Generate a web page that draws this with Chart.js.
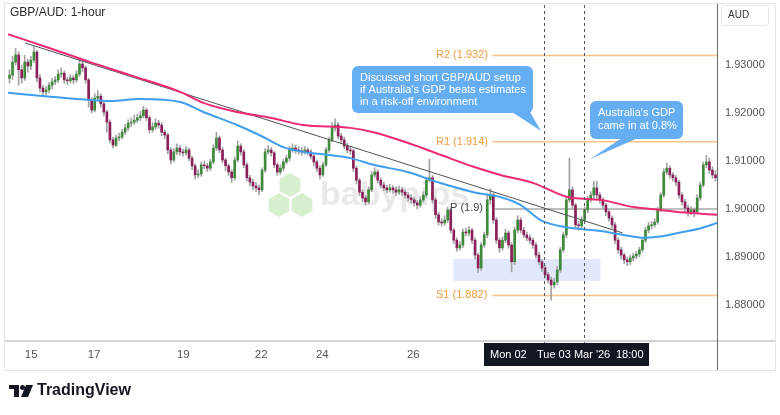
<!DOCTYPE html>
<html>
<head>
<meta charset="utf-8">
<title>GBP/AUD 1-hour</title>
<script src="https://cdn.jsdelivr.net/npm/chart.js@4.4.1/dist/chart.umd.min.js"></script>
<style>
  html, body { margin: 0; padding: 0; background: #fff; }
  #wrap { width: 780px; height: 415px; position: relative; }
</style>
</head>
<body>
<div id="wrap"><canvas id="gbpaud" width="780" height="415"></canvas></div>
<script>
// Start Data

// hourly closes (open = previous close)
const firstOpen = 1.9272;
const closes = [
  1.9279, 1.9306, 1.9321, 1.9290, 1.9273, 1.9306, 1.9298, 1.9310, 1.9327, 1.9273,
  1.9252, 1.9244, 1.9248, 1.9258, 1.9265, 1.9269, 1.9281, 1.9283, 1.9269, 1.9267,
  1.9273, 1.9269, 1.9281, 1.9302, 1.9294, 1.9269, 1.9227, 1.9206, 1.9231, 1.9235,
  1.9219, 1.9202, 1.9181, 1.9144, 1.9133, 1.9148, 1.9150, 1.9160, 1.9169, 1.9179,
  1.9181, 1.9185, 1.9190, 1.9194, 1.9206, 1.9190, 1.9165, 1.9171, 1.9179, 1.9175,
  1.9160, 1.9154, 1.9123, 1.9102, 1.9119, 1.9127, 1.9119, 1.9117, 1.9123, 1.9106,
  1.9090, 1.9071, 1.9073, 1.9092, 1.9090, 1.9085, 1.9098, 1.9127, 1.9148, 1.9123,
  1.9102, 1.9090, 1.9077, 1.9065, 1.9102, 1.9131, 1.9119, 1.9092, 1.9065, 1.9056,
  1.9048, 1.9044, 1.9040, 1.9081, 1.9119, 1.9123, 1.9117, 1.9092, 1.9077, 1.9085,
  1.9098, 1.9106, 1.9123, 1.9127, 1.9123, 1.9121, 1.9119, 1.9123, 1.9119, 1.9110,
  1.9098, 1.9085, 1.9071, 1.9092, 1.9123, 1.9144, 1.9169, 1.9175, 1.9152, 1.9144,
  1.9131, 1.9123, 1.9121, 1.9085, 1.9060, 1.9035, 1.9023, 1.9015, 1.9040, 1.9071,
  1.9077, 1.9060, 1.9050, 1.9044, 1.9040, 1.9044, 1.9040, 1.9035, 1.9040, 1.9035,
  1.9029, 1.9023, 1.9019, 1.9013, 1.9008, 1.9019, 1.9029, 1.9060, 1.9065, 1.9019,
  1.8988, 1.8973, 1.8971, 1.8977, 1.8998, 1.8956, 1.8935, 1.8919, 1.8925, 1.8952,
  1.8950, 1.8956, 1.8935, 1.8904, 1.8877, 1.8925, 1.8946, 1.9019, 1.9029, 1.8977,
  1.8935, 1.8919, 1.8935, 1.8950, 1.8925, 1.8890, 1.8956, 1.8977, 1.8956, 1.8946,
  1.8940, 1.8935, 1.8925, 1.8904, 1.8890, 1.8877, 1.8863, 1.8852, 1.8842, 1.8848,
  1.8873, 1.8915, 1.8946, 1.9019, 1.9040, 1.9008, 1.8967, 1.8965, 1.8977, 1.8998,
  1.9019, 1.9029, 1.9044, 1.9029, 1.9019, 1.9008, 1.8994, 1.8981, 1.8967, 1.8935,
  1.8915, 1.8904, 1.8894, 1.8890, 1.8898, 1.8902, 1.8906, 1.8915, 1.8935, 1.8956,
  1.8965, 1.8967, 1.8973, 1.8998, 1.9029, 1.9077, 1.9085, 1.9071, 1.9065, 1.9056,
  1.9029, 1.9015, 1.9002, 1.8994, 1.8998, 1.8994, 1.9023, 1.9050, 1.9092, 1.9098,
  1.9081, 1.9071, 1.9065
];
const highs = [
  1.9290, 1.9318, 1.9335, 1.9328, 1.9300, 1.9320, 1.9312, 1.9318, 1.9338, 1.9331,
  1.9280, 1.9258, 1.9255, 1.9264, 1.9272, 1.9276, 1.9290, 1.9294, 1.9288, 1.9275,
  1.9280, 1.9278, 1.9288, 1.9312, 1.9312, 1.9298, 1.9272, 1.9232, 1.9240, 1.9247,
  1.9240, 1.9224, 1.9206, 1.9186, 1.9150, 1.9154, 1.9158, 1.9166, 1.9176, 1.9186,
  1.9190, 1.9196, 1.9198, 1.9203, 1.9214, 1.9210, 1.9194, 1.9180, 1.9188, 1.9185,
  1.9180, 1.9165, 1.9158, 1.9128, 1.9126, 1.9136, 1.9132, 1.9125, 1.9130, 1.9127,
  1.9110, 1.9094, 1.9082, 1.9098, 1.9100, 1.9095, 1.9104, 1.9134, 1.9160, 1.9152,
  1.9128, 1.9106, 1.9094, 1.9082, 1.9108, 1.9142, 1.9136, 1.9124, 1.9096, 1.9070,
  1.9062, 1.9055, 1.9050, 1.9086, 1.9126, 1.9132, 1.9128, 1.9120, 1.9096, 1.9092,
  1.9104, 1.9112, 1.9130, 1.9136, 1.9133, 1.9130, 1.9128, 1.9130, 1.9127, 1.9124,
  1.9114, 1.9102, 1.9090, 1.9098, 1.9128, 1.9150, 1.9180, 1.9188, 1.9180, 1.9158,
  1.9150, 1.9137, 1.9130, 1.9125, 1.9090, 1.9064, 1.9040, 1.9028, 1.9046, 1.9078,
  1.9086, 1.9082, 1.9065, 1.9056, 1.9050, 1.9052, 1.9049, 1.9046, 1.9048, 1.9045,
  1.9040, 1.9034, 1.9030, 1.9024, 1.9018, 1.9026, 1.9036, 1.9066, 1.9104, 1.9070,
  1.9024, 1.8994, 1.8980, 1.8986, 1.9004, 1.9002, 1.8960, 1.8940, 1.8932, 1.8958,
  1.8960, 1.8964, 1.8960, 1.8940, 1.8908, 1.8930, 1.8952, 1.9030, 1.9042, 1.9034,
  1.8982, 1.8940, 1.8942, 1.8958, 1.8955, 1.8930, 1.8962, 1.8986, 1.8982, 1.8962,
  1.8952, 1.8946, 1.8940, 1.8930, 1.8910, 1.8894, 1.8882, 1.8868, 1.8858, 1.8856,
  1.8880, 1.8920, 1.8952, 1.9026, 1.9106, 1.9046, 1.9012, 1.8975, 1.8984, 1.9004,
  1.9026, 1.9036, 1.9058, 1.9058, 1.9034, 1.9024, 1.9012, 1.8998, 1.8986, 1.8972,
  1.8940, 1.8920, 1.8908, 1.8900, 1.8904, 1.8908, 1.8912, 1.8920, 1.8940, 1.8962,
  1.8972, 1.8974, 1.8980, 1.9004, 1.9034, 1.9084, 1.9096, 1.9090, 1.9076, 1.9070,
  1.9060, 1.9034, 1.9020, 1.9008, 1.9005, 1.9002, 1.9030, 1.9056, 1.9098, 1.9112,
  1.9106, 1.9088, 1.9080
];
const lows = [
  1.9262, 1.9270, 1.9300, 1.9258, 1.9262, 1.9268, 1.9285, 1.9290, 1.9305, 1.9265,
  1.9244, 1.9236, 1.9238, 1.9242, 1.9250, 1.9259, 1.9263, 1.9274, 1.9262, 1.9259,
  1.9262, 1.9261, 1.9264, 1.9276, 1.9286, 1.9262, 1.9212, 1.9200, 1.9202, 1.9225,
  1.9212, 1.9194, 1.9160, 1.9137, 1.9127, 1.9130, 1.9142, 1.9146, 1.9155, 1.9163,
  1.9172, 1.9176, 1.9180, 1.9184, 1.9190, 1.9184, 1.9158, 1.9160, 1.9166, 1.9168,
  1.9152, 1.9146, 1.9115, 1.9094, 1.9098, 1.9113, 1.9112, 1.9110, 1.9112, 1.9100,
  1.9082, 1.9062, 1.9065, 1.9068, 1.9084, 1.9078, 1.9080, 1.9094, 1.9122, 1.9117,
  1.9096, 1.9080, 1.9070, 1.9055, 1.9060, 1.9098, 1.9112, 1.9086, 1.9058, 1.9048,
  1.9040, 1.9036, 1.9030, 1.9036, 1.9076, 1.9114, 1.9110, 1.9086, 1.9070, 1.9072,
  1.9080, 1.9094, 1.9100, 1.9118, 1.9116, 1.9114, 1.9112, 1.9114, 1.9112, 1.9104,
  1.9090, 1.9078, 1.9062, 1.9068, 1.9088, 1.9118, 1.9140, 1.9162, 1.9146, 1.9138,
  1.9125, 1.9117, 1.9114, 1.9078, 1.9052, 1.9028, 1.9016, 1.9008, 1.9010, 1.9036,
  1.9066, 1.9054, 1.9044, 1.9038, 1.9034, 1.9035, 1.9033, 1.9028, 1.9030, 1.9028,
  1.9022, 1.9016, 1.9012, 1.9006, 1.9000, 1.9004, 1.9014, 1.9024, 1.9056, 1.9012,
  1.8980, 1.8966, 1.8964, 1.8966, 1.8972, 1.8950, 1.8928, 1.8912, 1.8914, 1.8920,
  1.8944, 1.8944, 1.8928, 1.8896, 1.8868, 1.8872, 1.8920, 1.8940, 1.9010, 1.8970,
  1.8928, 1.8910, 1.8914, 1.8930, 1.8918, 1.8869, 1.8884, 1.8950, 1.8950, 1.8940,
  1.8934, 1.8928, 1.8918, 1.8898, 1.8884, 1.8870, 1.8856, 1.8846, 1.8810, 1.8835,
  1.8842, 1.8868, 1.8910, 1.8940, 1.9014, 1.9000, 1.8960, 1.8956, 1.8960, 1.8972,
  1.8992, 1.9014, 1.9022, 1.9022, 1.9012, 1.9000, 1.8986, 1.8974, 1.8960, 1.8928,
  1.8908, 1.8896, 1.8886, 1.8882, 1.8884, 1.8892, 1.8896, 1.8900, 1.8910, 1.8930,
  1.8950, 1.8958, 1.8962, 1.8968, 1.8994, 1.9024, 1.9072, 1.9064, 1.9058, 1.9048,
  1.9022, 1.9008, 1.8994, 1.8985, 1.8988, 1.8984, 1.8990, 1.9018, 1.9046, 1.9086,
  1.9074, 1.9064, 1.9058
];

// moving averages (read at a few candles)
const ma200X = [-0.5, 13.3, 26.5, 39.6, 56.1, 63.7, 74.8, 85.7, 96.5, 112, 119.6, 130.8, 141.6, 152.5, 161.3, 172.2, 183.4, 194.2, 205.1, 214, 222.9, 232.5];
const ma200Y = [1.9364, 1.9335, 1.9306, 1.9279, 1.9244, 1.9221, 1.9202, 1.9190, 1.9175, 1.9169, 1.9160, 1.9138, 1.9113, 1.9088, 1.9071, 1.9054, 1.9025, 1.9019, 1.9004, 1.8998, 1.8992, 1.8988];
const ma100X = [-0.5, 11.7, 26.5, 33.1, 42.9, 56.1, 63.7, 74.8, 83.4, 90, 96.5, 104.4, 112, 119.6, 130.8, 141.6, 152.5, 161.3, 168, 174.5, 182.1, 194.2, 201.8, 208.4, 213, 219.6, 227.2, 232.5];
const ma100Y = [1.9242, 1.9235, 1.9227, 1.9225, 1.9229, 1.9223, 1.9202, 1.9175, 1.9150, 1.9129, 1.9119, 1.9113, 1.9106, 1.9092, 1.9077, 1.9054, 1.9035, 1.9025, 1.9008, 1.8977, 1.8963, 1.8954, 1.8946, 1.8940, 1.8942, 1.8950, 1.8960, 1.8971];

// pivot levels
const levelNames = ['R2 (1.932)', 'R1 (1.914)', 'P (1.9)', 'S1 (1.882)'];
const levelValues = [1.932, 1.914, 1.9, 1.882];

// axis ticks
const dayLabels = ['15', '17', '19', '22', '24', '26'];
const dayTicks = [7.1, 27.8, 57.1, 82.7, 102.8, 132.7];
const priceTicks = [1.88, 1.89, 1.90, 1.91, 1.92, 1.93];

// End Data

const opens = closes.map((c, i) => (i === 0 ? firstOpen : closes[i - 1]));
const lastIdx = closes.length - 1;

const wickData = closes.map((c, i) => ({ x: i, y: [lows[i], highs[i]] }));
const bodyData = closes.map((c, i) => ({ x: i, y: [opens[i], c] }));
const bodyColors = closes.map((c, i) => (c >= opens[i] ? '#3f8a3a' : '#8a1f5a'));

const levelStart = 158.7;
const levelDatasets = levelValues.map((v, i) => ({
  type: 'line',
  data: [{ x: i === 2 ? 159.6 : levelStart, y: v }, { x: lastIdx + 0.5, y: v }],
  borderColor: i === 2 ? '#a8a8a8' : 'rgba(255,186,120,0.9)',
  borderWidth: 1.5,
  pointRadius: 0,
  order: 3,
}));

// Start Overlay Plugin
function roundRect(ctx, x, y, w, h, r) {
  ctx.beginPath();
  ctx.moveTo(x + r, y);
  ctx.arcTo(x + w, y, x + w, y + h, r);
  ctx.arcTo(x + w, y + h, x, y + h, r);
  ctx.arcTo(x, y + h, x, y, r);
  ctx.arcTo(x, y, x + w, y, r);
  ctx.closePath();
}

function hexagon(ctx, cx, cy, r) {
  ctx.beginPath();
  for (let k = 0; k < 6; k++) {
    const a = Math.PI / 180 * (60 * k - 90);
    const px = cx + r * Math.cos(a), py = cy + r * Math.sin(a);
    if (k === 0) ctx.moveTo(px, py); else ctx.lineTo(px, py);
  }
  ctx.closePath();
  ctx.fill();
}

const overlay = {
  id: 'overlay',
  beforeDatasetsDraw(chart) {
    const { ctx, scales: { x, y } } = chart;
    ctx.save();
    // watermark
    ctx.fillStyle = 'rgba(150,210,130,0.38)';
    hexagon(ctx, 290, 185, 12);
    hexagon(ctx, 279, 205, 12);
    hexagon(ctx, 302, 205, 12);
    ctx.fillStyle = 'rgba(170,170,170,0.26)';
    ctx.font = 'bold 34px "Liberation Sans", Arial, sans-serif';
    ctx.textBaseline = 'alphabetic';
    ctx.fillText('babypips', 320, 205);
    // support zone
    const zx0 = x.getPixelForValue(145.9), zx1 = x.getPixelForValue(194.2);
    const zy0 = y.getPixelForValue(1.8896), zy1 = y.getPixelForValue(1.8850);
    ctx.fillStyle = 'rgba(120,150,240,0.22)';
    ctx.fillRect(zx0, zy0, zx1 - zx0, zy1 - zy0);
    ctx.restore();
  },
  afterDatasetsDraw(chart) {
    const { ctx, scales: { x } } = chart;
    ctx.save();
    ctx.strokeStyle = '#555';
    ctx.lineWidth = 1;
    ctx.setLineDash([3, 3]);
    [175.8, 188.7].forEach(v => {
      const px = Math.round(x.getPixelForValue(v)) + 0.5;
      ctx.beginPath();
      ctx.moveTo(px, 5);
      ctx.lineTo(px, 345);
      ctx.stroke();
    });
    ctx.restore();
  },
  afterDraw(chart) {
    const { ctx, scales: { y } } = chart;
    ctx.save();
    // panel frame
    ctx.strokeStyle = '#e3e5ea';
    ctx.lineWidth = 1;
    ctx.strokeRect(4.5, 3.5, 771, 367);
    ctx.strokeStyle = '#d4d4d4';
    ctx.lineWidth = 2;
    ctx.beginPath(); ctx.moveTo(5, 341); ctx.lineTo(775, 341); ctx.stroke();
    ctx.strokeStyle = '#6a6a6a';
    ctx.lineWidth = 1;
    ctx.beginPath(); ctx.moveTo(717.5, 4); ctx.lineTo(717.5, 370); ctx.stroke();

    // title
    ctx.fillStyle = '#2a2a2a';
    ctx.font = '12px "Liberation Sans", Arial, sans-serif';
    ctx.textBaseline = 'middle';
    ctx.fillText('GBP/AUD: 1-hour', 10, 13);

    // currency box
    ctx.strokeStyle = '#e6e6e6';
    roundRect(ctx, 721.5, 5.5, 47, 20, 3);
    ctx.stroke();
    ctx.fillStyle = '#333';
    ctx.font = '10px "Liberation Sans", Arial, sans-serif';
    ctx.fillText('AUD', 728, 15.5);

    // level labels
    ctx.font = '11px "Liberation Sans", Arial, sans-serif';
    levelNames.forEach((name, i) => {
      const py = y.getPixelForValue(levelValues[i]);
      ctx.fillStyle = i === 2 ? '#444' : '#f29b3e';
      ctx.fillText(name, i === 2 ? 450 : 436, py - (i === 2 ? 1 : 0));
    });

    // callouts
    ctx.fillStyle = '#66aef3';
    roundRect(ctx, 352, 66, 181, 47, 6);
    ctx.fill();
    ctx.beginPath();
    ctx.moveTo(512, 112); ctx.lineTo(530, 112); ctx.lineTo(541, 131); ctx.closePath();
    ctx.fill();
    roundRect(ctx, 590, 101, 93, 38, 6);
    ctx.fill();
    ctx.beginPath();
    ctx.moveTo(622, 138); ctx.lineTo(638, 138); ctx.lineTo(590, 159); ctx.closePath();
    ctx.fill();
    ctx.fillStyle = '#ffffff';
    ctx.font = '11px "Liberation Sans", Arial, sans-serif';
    ctx.fillText('Discussed short GBP/AUD setup', 360, 78);
    ctx.fillText("if Australia's GDP beats estimates", 360, 90);
    ctx.fillText('in a risk-off environment', 360, 102);
    ctx.fillText("Australia's GDP", 598, 113);
    ctx.fillText('came in at 0.8%', 598, 126);

    // date box on time axis
    ctx.fillStyle = '#131722';
    ctx.fillRect(484, 343, 165, 23);
    ctx.fillStyle = '#ffffff';
    ctx.font = '11px "Liberation Sans", Arial, sans-serif';
    ctx.fillText('Mon 02', 490, 355);
    ctx.fillText("Tue 03 Mar '26", 537, 355);
    ctx.fillText('18:00', 616, 355);

    // footer logo
    ctx.fillStyle = '#131722';
    ctx.fillRect(9, 385, 10, 4);
    ctx.fillRect(14, 385, 5, 12);
    ctx.beginPath(); ctx.arc(22.5, 387.5, 2.5, 0, Math.PI * 2); ctx.fill();
    ctx.beginPath();
    ctx.moveTo(26, 385); ctx.lineTo(33, 385); ctx.lineTo(28, 397); ctx.lineTo(21, 397);
    ctx.closePath(); ctx.fill();
    ctx.font = 'bold 16px "Liberation Sans", Arial, sans-serif';
    ctx.fillText('TradingView', 37, 391);
    ctx.restore();
  }
};
// End Overlay Plugin

const chart_ctx = document.getElementById('gbpaud');

const candleChart = new Chart(chart_ctx, {
  type: 'bar',
  data: {
    datasets: [
      {
        type: 'line',
        data: ma200X.map((v, i) => ({ x: v, y: ma200Y[i] })),
        borderColor: '#ec2a74',
        borderWidth: 2,
        pointRadius: 0,
        cubicInterpolationMode: 'monotone',
        order: 0,
      },
      {
        type: 'line',
        data: ma100X.map((v, i) => ({ x: v, y: ma100Y[i] })),
        borderColor: '#3f9ef0',
        borderWidth: 2,
        pointRadius: 0,
        cubicInterpolationMode: 'monotone',
        order: 0,
      },
      {
        type: 'line',
        data: [{ x: 5.1, y: 1.9346 }, { x: 201.5, y: 1.8950 }],
        borderColor: '#505050',
        borderWidth: 1,
        pointRadius: 0,
        order: 0,
      },
      ...levelDatasets,
      {
        data: bodyData,
        backgroundColor: bodyColors,
        barThickness: 2,
        grouped: false,
        order: 1,
      },
      {
        data: wickData,
        backgroundColor: '#a3a3a3',
        barThickness: 1,
        grouped: false,
        order: 2,
      },
    ],
  },
  options: {
    responsive: false,
    animation: false,
    devicePixelRatio: 1,
    layout: { padding: { left: 8, top: 5, right: 0, bottom: 0 } },
    plugins: {
      legend: { display: false },
      tooltip: { enabled: false },
    },
    scales: {
      x: {
        type: 'linear',
        offset: false,
        min: -0.5,
        max: lastIdx + 0.5,
        grid: { display: false, drawTicks: false },
        border: { display: false },
        afterBuildTicks: axis => { axis.ticks = dayTicks.map(v => ({ value: v })); },
        afterFit: axis => {
          axis.height = 75;
          axis.paddingLeft = 0;
          axis.paddingRight = 0;
        },
        ticks: {
          autoSkip: false,
          maxRotation: 0,
          padding: 8,
          color: '#555',
          font: { family: '"Liberation Sans", Arial, sans-serif', size: 11.5 },
          callback: (value, index) => dayLabels[index],
        },
      },
      y: {
        position: 'right',
        min: 1.872708,
        max: 1.9425,
        grid: { display: false, drawTicks: false },
        border: { display: false },
        afterBuildTicks: axis => { axis.ticks = priceTicks.map(v => ({ value: v })); },
        afterFit: axis => {
          axis.width = 63;
          axis.paddingTop = 0;
          axis.paddingBottom = 0;
        },
        ticks: {
          padding: 8,
          color: '#555',
          font: { family: '"Liberation Sans", Arial, sans-serif', size: 11 },
          callback: v => v.toFixed(5),
        },
      },
    },
  },
  plugins: [overlay],
});
</script>
</body>
</html>
